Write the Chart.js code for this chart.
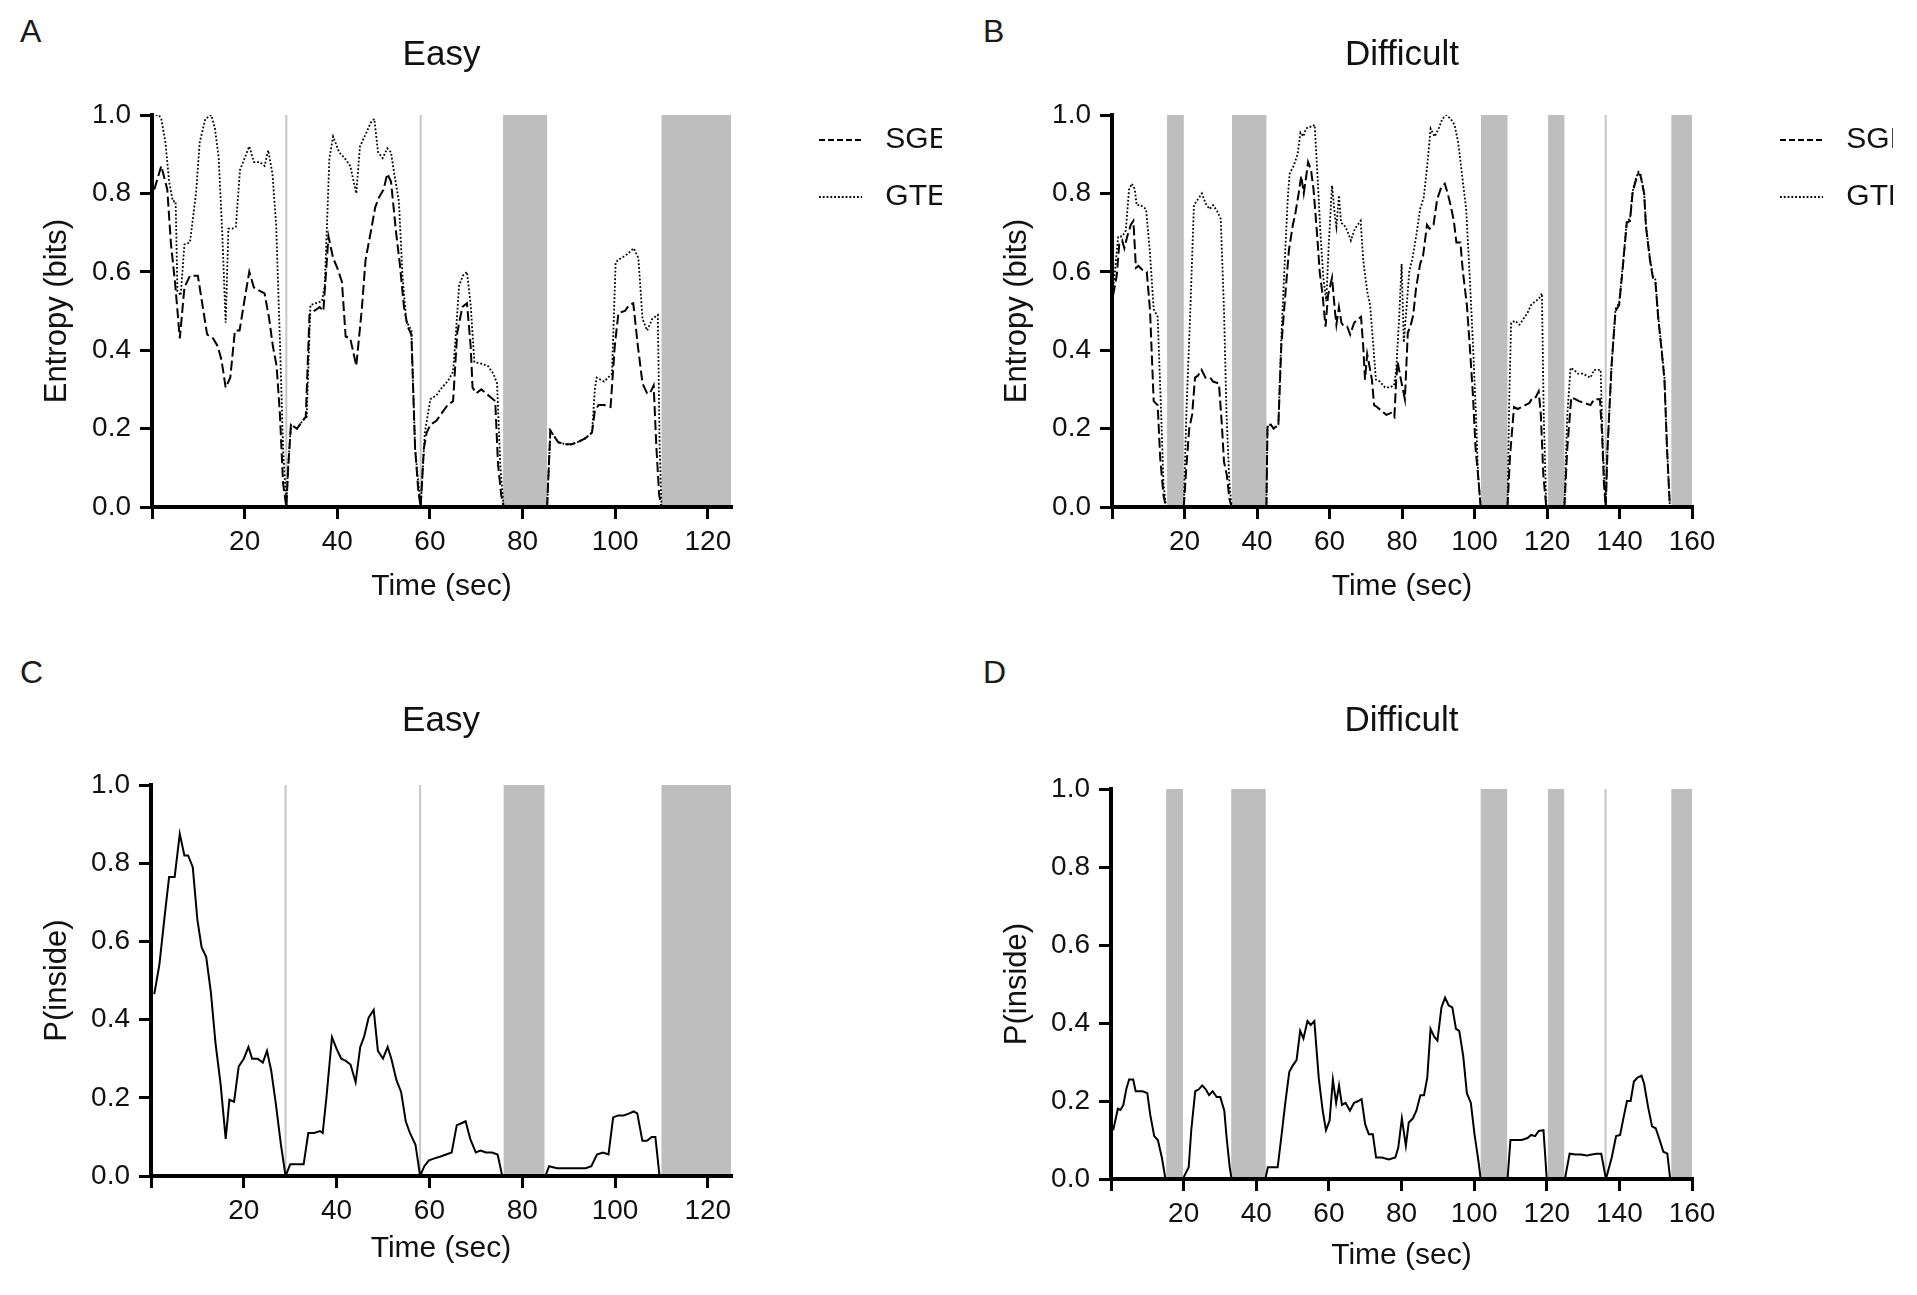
<!DOCTYPE html>
<html>
<head>
<meta charset="utf-8">
<script src="https://cdn.jsdelivr.net/npm/chart.js@4.4.1/dist/chart.umd.min.js"></script>
<style>
html, body { margin: 0; padding: 0; background: #fff; width: 1917px; height: 1295px; overflow: hidden; position: relative; }
canvas { position: absolute; }
.tag { position: absolute; font: 32px 'Liberation Sans', Arial, sans-serif; line-height: 32px; color: #1a1a1a; }
</style>
</head>
<body>
<div class="tag" style="left:20px;top:15px">A</div>
<div class="tag" style="left:983px;top:15px">B</div>
<div class="tag" style="left:20px;top:656px">C</div>
<div class="tag" style="left:983px;top:656px">D</div>

<canvas id="chartA" width="972" height="617" style="left:0;top:0"></canvas>
<canvas id="chartB" width="933" height="617" style="left:960px;top:0"></canvas>
<canvas id="chartC" width="761" height="646" style="left:0;top:640px"></canvas>
<canvas id="chartD" width="762" height="649" style="left:960px;top:640px"></canvas>

<script>
// ---- Easy trial (A, C) ----
var tSgeA = [0.5,2,3.3,4.1,5,6,7,8.2,9.9,11.1,11.9,13.2,14.2,15,15.9,16.9,17.9,18.9,20,21,22,23.5,24.3,25.3,26.1,26.9,27.6,28.3,29,29.4,30,31.3,32.5,33.2,34,35,36.2,37,38.1,39.1,40,41,41.8,42.8,44.1,45.3,46.1,47.2,48.2,49,50,50.8,51.6,52.7,53.5,54.4,55.2,56,56.8,57.5,58,58.7,59.3,60.1,61.4,62.6,63.8,65,65.9,67,68,68.8,69.2,70,71.1,72.1,73.1,74.1,74.7,75.4,75.9,80,85.3,86,87.7,89.4,90.6,91.8,93.5,95,95.6,96.4,97.6,99,99.9,100.7,102.1,103,103.9,104.9,105.9,106.9,107.5,108.3,108.9,109.5,110];
var sgeA = [0.81,0.87,0.81,0.67,0.57,0.43,0.56,0.59,0.59,0.50,0.44,0.43,0.41,0.375,0.305,0.33,0.45,0.45,0.53,0.60,0.56,0.55,0.545,0.48,0.41,0.36,0.24,0.06,0,0.10,0.21,0.20,0.22,0.23,0.49,0.50,0.51,0.50,0.69,0.635,0.61,0.575,0.435,0.43,0.36,0.505,0.63,0.70,0.765,0.79,0.81,0.85,0.83,0.70,0.62,0.51,0.46,0.44,0.15,0.04,0,0.15,0.19,0.21,0.22,0.24,0.26,0.27,0.445,0.51,0.52,0.41,0.305,0.29,0.30,0.29,0.28,0.27,0.11,0.03,0,null,0,0.195,0.165,0.16,0.16,0.165,0.175,0.19,0.245,0.26,0.26,0.255,0.41,0.495,0.50,0.515,0.52,0.41,0.315,0.29,0.29,0.31,0.15,0.03,0];
var tGteA = [0.8,1.5,2,2.9,3.7,4.5,5.1,5.5,6.2,7,8.2,9.5,10.3,11.5,12.8,13.6,14.4,15.2,15.9,16.5,17.3,18.1,19,20,21,22,23.3,24.3,25.1,26,26.8,27.6,28.3,29,29.4,30,31.3,32.5,33.4,34.2,35.4,36.7,37.3,38.3,39.1,40.4,41.6,42.8,44.1,44.9,46.1,47.2,48,48.8,49.8,50.8,51.6,52.3,53.3,54.1,54.9,56,56.8,58,58.9,60.1,61.4,62.6,63.8,65,65.5,66.3,67.1,68,68.8,69.6,71.3,72.5,73.7,74.5,75.2,75.9,80,85.3,86,87.7,89.4,90.6,91.8,93.5,95,95.6,96,97.6,99.3,100.1,101.3,102.6,104,105,105.9,106.9,108,109.2,109.6,110];
var gteA = [1.0,1.0,0.99,0.93,0.83,0.78,0.78,0.55,0.54,0.67,0.675,0.80,0.93,0.99,1.0,0.965,0.89,0.69,0.47,0.71,0.71,0.715,0.86,0.89,0.92,0.88,0.88,0.87,0.91,0.85,0.72,0.43,0.15,0,0.105,0.21,0.20,0.22,0.23,0.515,0.52,0.525,0.565,0.89,0.945,0.905,0.89,0.87,0.80,0.92,0.95,0.98,0.99,0.905,0.89,0.915,0.905,0.85,0.78,0.585,0.475,0.45,0.15,0,0.19,0.275,0.285,0.305,0.32,0.345,0.425,0.565,0.59,0.60,0.515,0.37,0.365,0.36,0.34,0.315,0.105,0,null,0,0.195,0.165,0.16,0.16,0.165,0.175,0.19,0.30,0.33,0.32,0.34,0.625,0.635,0.645,0.66,0.635,0.48,0.45,0.48,0.49,0.15,0];
var tInC = [0.7,1.8,2.9,3.9,5.1,6.2,7.2,8,9,10,10.9,11.9,12.9,13.9,15,16.1,16.9,17.9,18.9,20,21,21.8,23,24.1,25,25.9,26.9,28,29,30,31.5,32.9,33.9,35.2,36.4,37,37.8,39,40,41,41.9,43,44.1,45.1,45.9,46.9,48,48.9,50,51,51.8,52.9,53.9,54.9,55.8,57,58,58.9,59.9,61.1,62.4,63.6,64.8,65.9,66.9,67.8,68.8,70,71,72.2,73.5,74.7,75.7,80,85,85.8,87.5,89.5,91.6,93.7,94.9,96.1,97.4,98.6,99.6,100.7,101.9,103.1,104,104.8,105.9,106.9,107.9,108.7,109.6];
var inC = [0.465,0.54,0.66,0.765,0.765,0.875,0.82,0.82,0.79,0.655,0.585,0.56,0.47,0.34,0.235,0.095,0.195,0.19,0.28,0.30,0.33,0.30,0.30,0.29,0.32,0.27,0.185,0.08,0,0.03,0.03,0.03,0.11,0.11,0.115,0.11,0.20,0.355,0.325,0.30,0.295,0.285,0.24,0.33,0.355,0.405,0.425,0.32,0.30,0.33,0.30,0.245,0.215,0.14,0.11,0.08,0,0.025,0.04,0.045,0.05,0.055,0.06,0.13,0.135,0.14,0.095,0.06,0.065,0.06,0.06,0.055,0,null,0,0.025,0.02,0.02,0.02,0.02,0.025,0.055,0.06,0.055,0.15,0.155,0.155,0.16,0.165,0.16,0.09,0.09,0.10,0.10,0];
var breaksEasy = [29, 58];
var pausesEasyA = [[75.8, 85.3], [110, 125]];
var pausesEasyC = [[76, 84.8], [110, 125]];

// ---- Difficult trial (B, D) ----
var tSgeB = [0.3,1.3,2,2.8,3.4,4.2,5.2,5.9,6.6,7.3,8.4,9.6,10.5,11.5,12.6,13.3,14.2,14.9,17,19.8,20.5,21.3,22.1,22.9,23.7,24.7,25.8,27.1,27.9,29.5,30.3,30.9,31.7,32.4,33,38,42.6,42.9,43.8,44.6,45.9,46.7,47.8,48.8,49.9,50.6,51.5,52.2,52.9,53.6,54.1,54.9,55.6,56.5,57.3,58.1,58.9,59.6,60.7,61.5,61.9,62.6,63.3,64,64.9,65.7,66.8,67.9,68.7,69.3,69.8,70.4,71,71.7,72.3,73.1,74.4,75.7,77,77.9,78.4,78.8,79.7,80.8,81.6,82.3,83.1,83.9,85,85.8,86.9,87.6,88.7,89.7,90.8,91.8,92.6,93.4,94.3,95,96.1,96.8,97.9,98.7,99.6,100.3,101,101.7,105,109.1,109.8,110.9,111.9,113,114,115.1,116.1,116.9,117.7,118.3,119,119.8,122,124.8,125.6,126.7,127.8,128.8,130.4,132,133,134.6,135.2,135.7,136.2,136.7,137.8,138.9,139.9,141,142,142.9,143.6,144.4,145.2,145.8,146.8,147.3,148.4,149.2,149.9,150.7,151.5,152.4,153.1,153.9];
var sgeB = [0.54,0.59,0.67,0.68,0.66,0.69,0.72,0.73,0.61,0.615,0.605,0.60,0.50,0.27,0.26,0.125,0.03,0,null,0,0.10,0.20,0.235,0.33,0.335,0.35,0.33,0.33,0.32,0.315,0.21,0.115,0.08,0.02,0,null,0,0.21,0.21,0.20,0.21,0.41,0.54,0.655,0.72,0.75,0.80,0.845,0.80,0.845,0.88,0.86,0.81,0.705,0.60,0.54,0.46,0.54,0.585,0.50,0.465,0.51,0.47,0.46,0.46,0.44,0.47,0.48,0.485,0.41,0.325,0.39,0.36,0.325,0.26,0.255,0.245,0.235,0.24,0.23,0.325,0.37,0.325,0.275,0.445,0.46,0.49,0.56,0.62,0.64,0.72,0.71,0.72,0.785,0.815,0.825,0.80,0.77,0.73,0.675,0.675,0.60,0.515,0.41,0.28,0.15,0.08,0,null,0,0.13,0.255,0.25,0.255,0.26,0.265,0.28,0.28,0.295,0.235,0.08,0,null,0,0.15,0.28,0.275,0.27,0.265,0.26,0.275,0.275,0.185,0.06,0,0.15,0.36,0.50,0.515,0.62,0.725,0.73,0.80,0.83,0.85,0.845,0.80,0.715,0.63,0.585,0.575,0.48,0.41,0.325,0.15,0];
var tGteB = [0.3,0.7,1.7,2.8,3.8,4.7,5.5,6.3,6.8,7.9,9.4,10.5,11.5,12.6,13.5,14.2,14.9,17,19.8,20.5,21.6,22.6,23.7,24.8,25.8,26.9,27.9,29,30,30.9,31.6,32.4,33,38,42.6,42.9,43.8,44.6,45.9,46.7,47.8,48.5,49,50.1,51.2,52,52.8,53.5,54.3,55.2,55.9,56.7,57.5,58.3,59.1,59.8,60.7,61.4,61.9,62.6,63.2,64,64.9,65.9,67,68.6,69.3,70.4,71.2,72.1,72.8,73.9,75.3,76.5,77.8,78.4,79.2,79.9,80.5,81.3,82,82.9,83.9,85,86,86.9,87.9,89,90.1,91.1,92.2,93.4,94.5,95.5,96.6,97.7,98.7,99.6,100.4,101,101.7,105,109.1,109.6,110.1,111.2,112.4,113.5,114.6,115.6,116.7,117.7,118.6,119.1,119.8,122,124.8,125.6,126.5,127.4,128.5,129.9,132,133,134.8,135.4,136.2,136.7,137.8,138.9,139.9,141,142,142.9,143.6,144.4,145.2,145.8,146.8,147.3,148.4,149.2,149.9,150.7,151.5,152.4,153.1,153.9];
var gteB = [0.56,0.59,0.69,0.69,0.705,0.81,0.825,0.81,0.77,0.77,0.76,0.645,0.505,0.485,0.255,0.06,0,null,0,0.235,0.50,0.77,0.785,0.80,0.775,0.76,0.77,0.755,0.735,0.50,0.235,0.06,0,null,0,0.205,0.21,0.20,0.21,0.43,0.655,0.79,0.85,0.87,0.90,0.955,0.945,0.965,0.97,0.97,0.975,0.845,0.70,0.585,0.525,0.67,0.82,0.75,0.715,0.795,0.725,0.72,0.705,0.68,0.71,0.73,0.63,0.55,0.515,0.41,0.325,0.32,0.305,0.305,0.31,0.35,0.48,0.62,0.42,0.515,0.60,0.635,0.69,0.76,0.79,0.865,0.965,0.945,0.965,0.99,1.0,0.99,0.975,0.93,0.845,0.76,0.585,0.41,0.235,0.08,0,null,0,0.28,0.47,0.475,0.465,0.48,0.495,0.515,0.525,0.53,0.545,0.235,0,null,0,0.235,0.355,0.35,0.34,0.34,0.33,0.35,0.35,0.15,0,0.15,0.36,0.505,0.52,0.625,0.73,0.735,0.805,0.835,0.855,0.85,0.80,0.72,0.635,0.59,0.58,0.485,0.415,0.33,0.155,0];
var tInD = [0.6,1.9,2.6,3.4,4.2,5,6.1,6.8,7.7,8.7,10,10.8,11.9,12.9,14,15,17,19.8,20.3,21.4,22.1,23.2,24.2,25.1,26.1,27,28,29.1,30.1,31.2,31.9,32.7,33.2,38,42.5,43.2,45.9,47,48,49.1,50,51.1,52.1,53,54.1,55,56,57.2,58.3,59.2,60.2,61.1,62,62.8,63.6,64.6,65.8,66.9,68.1,69,70,71,72.1,73,74.6,76.5,78.3,79.1,80.1,81.2,82,83.1,84.1,85.2,86.2,87.1,88,89,89.9,91,92,93,94,95,95.9,97,98,99.1,100.1,101.2,101.8,105,109.2,110,111.5,113.1,114.7,115.7,116.8,117.8,119.1,120,122,125,126.3,127.9,129.4,131,132.4,133.7,135,136.3,137.9,139.1,140.2,141.2,142.1,143.1,144,145,146.1,146.8,147.9,149,150,151.1,152.1,153.2,154];
var inD = [0.125,0.18,0.177,0.19,0.23,0.255,0.255,0.225,0.225,0.225,0.22,0.165,0.11,0.10,0.055,0,null,0,0.01,0.03,0.125,0.225,0.23,0.24,0.23,0.215,0.225,0.21,0.21,0.175,0.10,0.03,0,null,0,0.03,0.03,0.115,0.195,0.275,0.29,0.305,0.38,0.36,0.405,0.395,0.405,0.26,0.175,0.125,0.15,0.255,0.195,0.24,0.19,0.195,0.175,0.195,0.20,0.205,0.14,0.115,0.115,0.055,0.055,0.05,0.055,0.08,0.155,0.085,0.145,0.155,0.175,0.215,0.215,0.26,0.385,0.365,0.355,0.44,0.465,0.445,0.44,0.385,0.38,0.315,0.22,0.195,0.115,0.045,0,null,0,0.10,0.10,0.10,0.105,0.113,0.11,0.123,0.125,0,null,0,0.065,0.063,0.063,0.06,0.063,0.065,0.065,0,0.055,0.11,0.113,0.16,0.20,0.20,0.25,0.26,0.265,0.245,0.185,0.135,0.13,0.10,0.07,0.065,0];
var breaksDifficult = [136.2];
var pausesDifficult = [[15.2, 19.8], [33.1, 42.6], [101.8, 109.1], [120.3, 124.8], [154.3, 160]];

var yTicks = [0, 0.2, 0.4, 0.6, 0.8, 1.0];

var FONT = "'Liberation Sans', Arial, Helvetica, sans-serif";
Chart.defaults.font.family = FONT;
Chart.defaults.color = '#111';

// grey task pauses behind everything
var pausePlugin = {
  id: 'pauses',
  beforeDraw: function (chart, args, o) {
    var ctx = chart.ctx, a = chart.chartArea, x = chart.scales.x;
    ctx.save();
    ctx.fillStyle = '#bebebe';
    (o.spans || []).forEach(function (s) {
      var x1 = x.getPixelForValue(s[0]), x2 = x.getPixelForValue(s[1]);
      ctx.fillRect(x1, a.top, x2 - x1, a.bottom - a.top);
    });
    ctx.fillStyle = '#c6c6c6';
    (o.marks || []).forEach(function (t) {
      var px = x.getPixelForValue(t);
      ctx.fillRect(px - 1, a.top, 2, a.bottom - a.top);
    });
    ctx.restore();
  }
};

function pts(ts, vs) {
  return ts.map(function (t, i) { return { x: t, y: vs[i] }; });
}

// legend samples take the dash and width of the dataset line
function lineLabels(chart) {
  var items = Chart.defaults.plugins.legend.labels.generateLabels(chart);
  items.forEach(function (it) {
    var ds = chart.data.datasets[it.datasetIndex];
    it.lineDash = ds.legendDash || ds.borderDash;
    it.lineWidth = ds.borderWidth;
    it.strokeStyle = ds.borderColor;
  });
  return items;
}

function makePanel(id, p) {
  var datasets = p.series.map(function (s) {
    return {
      label: s.label, data: pts(s.t, s.v), yAxisID: 'y',
      borderColor: '#000', backgroundColor: '#000', borderWidth: s.width, borderDash: s.dash || [],
      legendDash: s.legendDash,
      pointRadius: 0, pointHoverRadius: 0, tension: 0, fill: false
    };
  });
  var scales = {
    x: {
      type: 'linear', position: 'bottom', min: 0, max: p.xMax,
      afterFit: function (s) { s.height = 110; },
      ticks: {
        stepSize: 20, includeBounds: false, padding: 6, color: '#111',
        font: { size: 28 },
        callback: function (v) { return v === 0 ? '' : v; }
      },
      grid: { drawOnChartArea: false, drawTicks: true, tickLength: 12, lineWidth: 3, color: '#000' },
      border: { display: true, color: '#000', width: 4 },
      title: { display: true, text: 'Time (sec)', color: '#111', font: { size: 30 }, padding: { top: 0, bottom: p.xTitlePad } }
    },
    y: {
      type: 'linear', position: 'left', min: 0, max: 1,
      afterFit: function (s) { s.width = p.yWidth; },
      afterBuildTicks: function (s) { s.ticks = yTicks.map(function (v) { return { value: v }; }); },
      ticks: {
        padding: 9, color: '#111', font: { size: 28 },
        callback: function (v) { return v.toFixed(1); }
      },
      grid: { drawOnChartArea: false, drawTicks: true, tickLength: 12, lineWidth: 3, color: '#000' },
      border: { display: true, color: '#000', width: 4 },
      title: { display: true, text: p.yTitle, color: '#111', font: { size: 31 }, padding: { top: 39, bottom: 0 } }
    }
  };
  if (p.legend) {
    // empty strip between plot and legend
    scales.gap = {
      type: 'linear', position: 'right', display: true,
      afterFit: function (s) { s.width = 61; },
      ticks: { display: false }, grid: { display: false }, border: { display: false }
    };
  }
  return new Chart(document.getElementById(id), {
    type: 'line',
    data: { datasets: datasets },
    options: {
      responsive: false,
      animation: false,
      events: [],
      layout: { padding: { left: 0, top: 0, right: p.padRight, bottom: 0 } },
      scales: scales,
      plugins: {
        pauses: { spans: p.pauses, marks: p.breaks },
        tooltip: { enabled: false },
        title: {
          display: true, text: p.title, color: '#111', fullSize: false,
          font: { size: 35, weight: 'normal' },
          padding: { top: p.titleTop, bottom: p.titleBottom }
        },
        legend: {
          display: !!p.legend, position: 'right', align: 'start', fullSize: false,
          maxWidth: p.legendWidth,
          // negative-height title pulls the first entry up to the plot top
          title: { display: true, text: '', font: { size: 10, lineHeight: 1 }, padding: { top: -27, bottom: 0 } },
          labels: {
            usePointStyle: true, pointStyle: 'line', pointStyleWidth: 43,
            padding: 27, color: '#111', font: { size: 30 },
            generateLabels: lineLabels
          }
        }
      }
    },
    plugins: [pausePlugin]
  });
}

makePanel('chartA', {
  title: 'Easy', yTitle: 'Entropy (bits)', xMax: 125, yWidth: 152, padRight: 30,
  titleTop: 34, titleBottom: 39, xTitlePad: 12, legend: true, legendWidth: 150,
  pauses: pausesEasyA, breaks: breaksEasy,
  series: [
    { label: ' SGE', t: tSgeA, v: sgeA, width: 2, dash: [10, 4], legendDash: [6, 3] },
    { label: ' GTE', t: tGteA, v: gteA, width: 1.8, dash: [1.8, 2] }
  ]
});

makePanel('chartB', {
  title: 'Difficult', yTitle: 'Entropy (bits)', xMax: 160, yWidth: 152, padRight: 0,
  titleTop: 34, titleBottom: 39, xTitlePad: 12, legend: true, legendWidth: 140,
  pauses: pausesDifficult, breaks: breaksDifficult,
  series: [
    { label: ' SGE', t: tSgeB, v: sgeB, width: 2, dash: [10, 4], legendDash: [6, 3] },
    { label: ' GTE', t: tGteB, v: gteB, width: 1.8, dash: [1.8, 2] }
  ]
});

makePanel('chartC', {
  title: 'Easy', yTitle: 'P(inside)', xMax: 125, yWidth: 151, padRight: 30,
  titleTop: 60, titleBottom: 43, xTitlePad: 19, legend: false,
  pauses: pausesEasyC, breaks: breaksEasy,
  series: [{ label: 'P(inside)', t: tInC, v: inC, width: 2 }]
});

makePanel('chartD', {
  title: 'Difficult', yTitle: 'P(inside)', xMax: 160, yWidth: 151, padRight: 30,
  titleTop: 60, titleBottom: 47, xTitlePad: 15, legend: false,
  pauses: pausesDifficult, breaks: breaksDifficult,
  series: [{ label: 'P(inside)', t: tInD, v: inD, width: 2 }]
});
</script>
</body>
</html>
